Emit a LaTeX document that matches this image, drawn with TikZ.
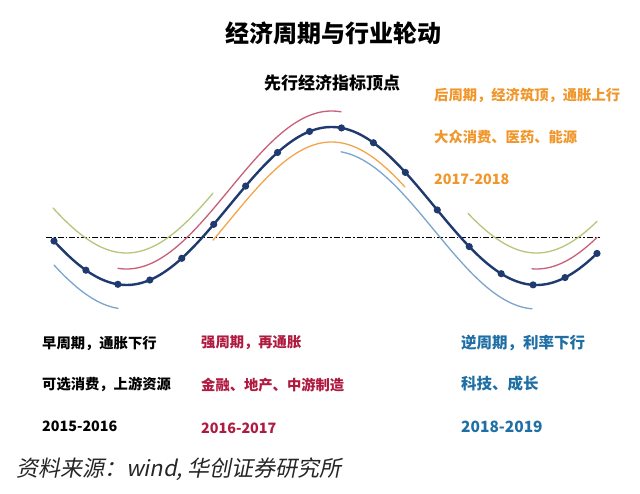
\documentclass[tikz,border=0pt]{standalone}
\usepackage{fontspec}
\setmainfont{Noto Sans CJK SC}
\newfontfamily\srcfont[FakeSlant=0.2]{Noto Sans CJK SC}
\usepackage{xcolor}
\definecolor{navyline}{HTML}{1F3A6F}
\definecolor{leadred}{HTML}{C8607A}
\definecolor{lagorange}{HTML}{F4A64C}
\definecolor{lagblue}{HTML}{7BA5CC}
\definecolor{earlygreen}{HTML}{B5C77A}
\definecolor{txtorange}{HTML}{F0962A}
\definecolor{txtred}{HTML}{B01A40}
\definecolor{txtblue}{HTML}{1F6FA5}

\begin{document}
\begin{tikzpicture}[x=1pt, y=-1pt,
    declare function={cyc(\t)=206-79*cos(0.87805*(\t-331.5));},
    txt/.style={anchor=west, inner sep=0pt, font=\fontsize{14.3}{16}\selectfont\bfseries},
    wave/.style={line width=1.3pt, line cap=round}]
    \useasboundingbox[fill=white] (0,0) rectangle (640,494);

    % titles
    \node[inner sep=0pt, font=\fontsize{24}{28}\selectfont\bfseries] (title) at (333,33) {经济周期与行业轮动};
    \node[inner sep=0pt, font=\fontsize{17}{20}\selectfont\bfseries] (peak) at (332,83) {先行经济指标顶点};

    % zero line
    \draw[black, line width=0.9pt, dash pattern=on 6pt off 2pt on 1.5pt off 2pt] (46,237) -- (600,237);

    % shifted copies of the cycle
    \draw[wave, earlygreen] plot[domain=53:213, samples=60] (\x, {cyc(\x)-32});
    \draw[wave, earlygreen] plot[domain=468:597, samples=60] (\x, {cyc(\x)-32});
    \draw[wave, leadred] plot[domain=118:341, samples=80] (\x, {cyc(\x)-16});
    \draw[wave, leadred] plot[domain=532:597, samples=30] (\x, {cyc(\x)-16});
    \draw[wave, lagorange] plot[domain=213:405, samples=80] (\x, {cyc(\x)+15});
    \draw[wave, lagblue] plot[domain=54:118, samples=30] (\x, {cyc(\x)+24});
    \draw[wave, lagblue] plot[domain=341:532, samples=80] (\x, {cyc(\x)+24});

    % main cycle with dots
    \draw[navyline, line width=2.4pt] plot[domain=54:597, samples=150] (\x, {cyc(\x)});
    \foreach \k in {0,...,17}
        \fill[navyline] ({54+31.94*\k}, {cyc(54+31.94*\k)}) circle (3.6pt);

    % phase labels
    \node[txt, txtorange] (lateA) at (434,95) {后周期，经济筑顶，通胀上行};
    \node[txt, txtorange] (lateB) at (434,137) {大众消费、医药、能源};
    \node[txt, txtorange] (lateC) at (434,179) {2017-2018};

    \node[txt, black] (earlyA) at (42,343) {早周期，通胀下行};
    \node[txt, black] (earlyB) at (42,384) {可选消费，上游资源};
    \node[txt, black] (earlyC) at (42,426) {2015-2016};

    \node[txt, txtred] (strongA) at (201,343) {强周期，再通胀};
    \node[txt, txtred] (strongB) at (201,385) {金融、地产、中游制造};
    \node[txt, txtred] (strongC) at (201,428) {2016-2017};

    \node[txt, txtblue, font=\fontsize{15.5}{18}\selectfont\bfseries] (counterA) at (461,343) {逆周期，利率下行};
    \node[txt, txtblue, font=\fontsize{15.5}{18}\selectfont\bfseries] (counterB) at (461,384) {科技、成长};
    \node[txt, txtblue, font=\fontsize{15.5}{18}\selectfont\bfseries] (counterC) at (461,427) {2018-2019};

    % source
    \node[anchor=west, inner sep=0pt, text=black!85, font=\fontsize{22}{26}\selectfont\srcfont] (source) at (16,469) {资料来源：wind, 华创证券研究所};
\end{tikzpicture}
\end{document}
